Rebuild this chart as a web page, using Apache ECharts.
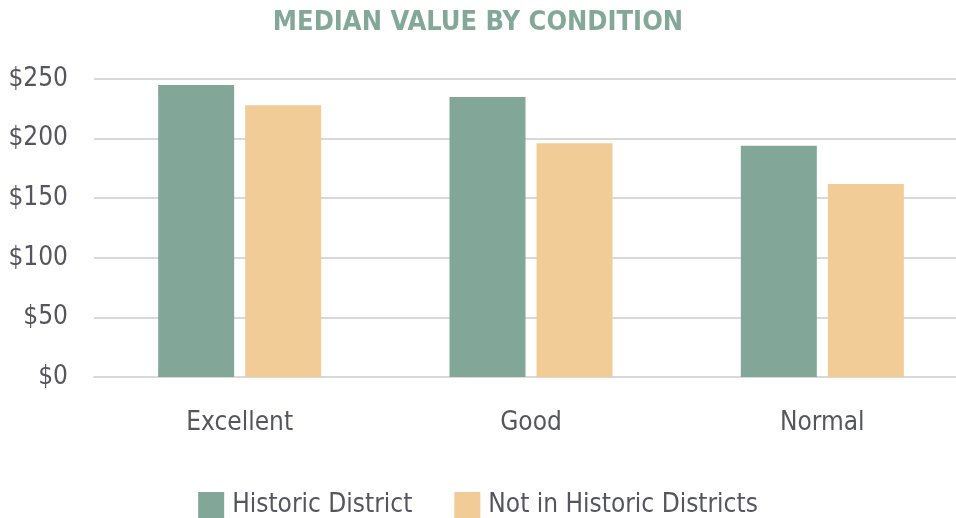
<!DOCTYPE html>
<html><head><meta charset="utf-8">
<script src="https://cdn.jsdelivr.net/npm/echarts@6/dist/echarts.min.js"></script>
<style>html,body{margin:0;padding:0;background:#fff}#c{width:956px;height:518px}</style>
</head><body><div id="c"></div>
<script>
const categories = ['Excellent', 'Good', 'Normal'];
const historic = [245, 235, 194];
const notHistoric = [228, 196, 162];
const seriesNames = ['Historic District', 'Not in Historic Districts'];
const FONT = "'Liberation Sans Narrow', 'DejaVu Sans Condensed', sans-serif";
const chart = echarts.init(document.getElementById('c'));
chart.setOption({
  animation: false,
  title: { text: 'MEDIAN VALUE BY CONDITION', left: 'center', top: 4,
    textStyle: { color: '#84a898', fontSize: 27, fontWeight: 'bold', fontFamily: FONT } },
  legend: { top: 487, left: 'center', itemWidth: 26, itemHeight: 26, itemGap: 42,
    icon: 'rect',
    textStyle: { color: '#55555f', fontSize: 26, fontFamily: FONT, padding: [0,0,0,3] } },
  grid: { left: 94, top: 79, height: 298, width: 874, outerBoundsMode: 'none', containLabel: false },
  xAxis: { type: 'category', data: categories,
    axisLine: { lineStyle: { color: '#d9d9d9', width: 2 } }, axisTick: { show: false },
    axisLabel: { color: '#55555f', fontSize: 26, fontFamily: FONT, margin: 33 } },
  yAxis: { type: 'value', min: 0, max: 250, interval: 50,
    axisLine: { show: false }, axisTick: { show: false },
    splitLine: { lineStyle: { color: '#d9d9d9', width: 2 } },
    axisLabel: { color: '#55555f', fontSize: 26, fontFamily: FONT, margin: 26,
      formatter: v => '$' + v } },
  series: [
    { name: seriesNames[0], type: 'bar', data: historic, barWidth: 76, barGap: '14.5%',
      itemStyle: { color: '#82a798' } },
    { name: seriesNames[1], type: 'bar', data: notHistoric, barWidth: 76,
      itemStyle: { color: '#f2cc96' } }
  ]
});
</script></body></html>
